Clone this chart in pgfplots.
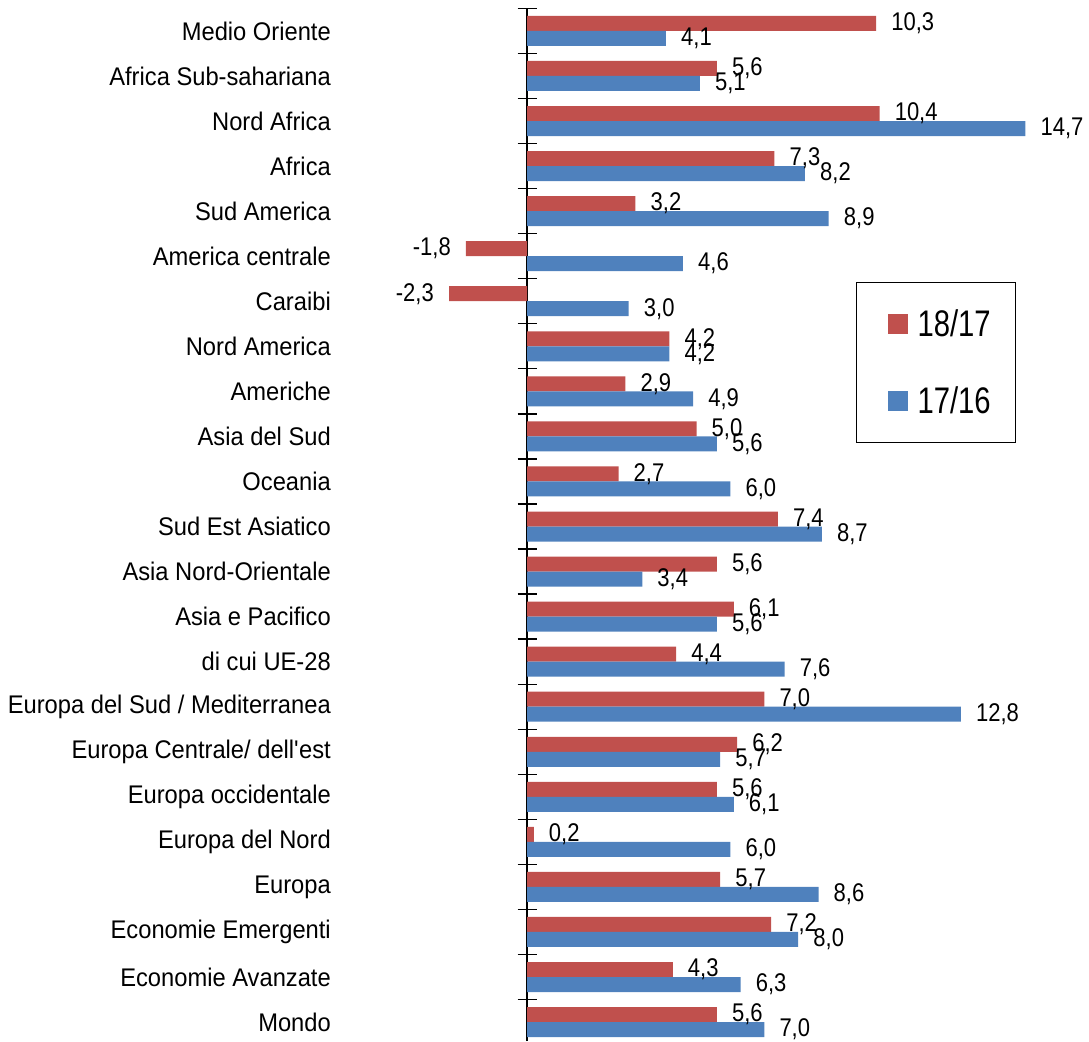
\documentclass[border=0pt]{standalone}
\usepackage{pgfplots}
\pgfplotsset{compat=1.18}
\usepackage{fontspec}
\setmainfont{Liberation Sans}
\newfontfamily\catfont[FakeStretch=0.93]{Liberation Sans}
\newfontfamily\numfont[FakeStretch=0.86]{Liberation Sans}
\newfontfamily\legfont[FakeStretch=0.79]{Liberation Sans}
\definecolor{cred}{HTML}{C0504D}
\definecolor{cblue}{HTML}{4F81BD}
\pgfplotstableread{
y  a     b
22 10.3  4.1
21 5.6   5.1
20 10.4  14.7
19 7.3   8.2
18 3.2   8.9
17 -1.8  4.6
16 -2.3  3.0
15 4.2   4.2
14 2.9   4.9
13 5.0   5.6
12 2.7   6.0
11 7.4   8.7
10 5.6   3.4
9  6.1   5.6
8  4.4   7.6
7  7.0   12.8
6  6.2   5.7
5  5.6   6.1
4  0.2   6.0
3  5.7   8.6
2  7.2   8.0
1  4.3   6.3
0  5.6   7.0
}\datatable
\begin{document}
\begin{tikzpicture}
\begin{axis}[
  at={(442.25pt,0pt)}, anchor=south west,
  scale only axis, width=593.25pt, height=1032.6pt,
  xmin=-2.5, xmax=15, ymin=-0.42, ymax=22.5,
  axis x line=none, axis y line=middle,
  y axis line style={-, line width=1.3pt},
  xbar, bar width=15pt,
  clip=false,
  ytick={0,...,22},
  yticklabels={Mondo,Economie Avanzate,Economie Emergenti,Europa,Europa del Nord,Europa occidentale,Europa Centrale/ dell\textquotesingle est,Europa del Sud / Mediterranea,di cui UE-28,Asia e Pacifico,Asia Nord-Orientale,Sud Est Asiatico,Oceania,Asia del Sud,Americhe,Nord America,Caraibi,America centrale,Sud America,Africa,Nord Africa,Africa Sub-sahariana,Medio Oriente},
  major tick length=0pt,
  minor ytick={0.5,1.5,...,22.5},
  minor tick length=19pt, ytick align=center,
  every tick/.style={black, line width=1.3pt},
  yticklabel style={font=\catfont\fontsize{25.5}{30}\selectfont, anchor=east, inner sep=0pt, xshift=-196pt},
  /pgf/number format/use comma,
  /pgf/number format/fixed,
  /pgf/number format/fixed zerofill,
  /pgf/number format/precision=1,
  /pgf/number format/assume math mode=true,
  nodes near coords,
  nodes near coords style={font=\numfont\fontsize{25.6}{30}\selectfont, inner xsep=15pt, inner ysep=0pt, black},
  legend style={at={(0.6974,0.735)}, anchor=north west, draw=black, line width=1.2pt,
    font=\legfont\fontsize{37}{42}\selectfont, inner xsep=25pt, inner ysep=27pt, row sep=49pt,
    column sep=10pt, nodes={inner sep=0pt}},
  legend cell align=left,
]
\addplot[fill=cred, draw=none, bar shift=7.5pt,
  legend image code/.code={\path (-6pt,0pt); \fill[cred] (0pt,-10pt) rectangle (20pt,10pt);}]
  table[x=a, y=y] {\datatable};
\addplot[fill=cblue, draw=none, bar shift=-7.5pt,
  legend image code/.code={\path (-6pt,0pt); \fill[cblue] (0pt,-10pt) rectangle (20pt,10pt);}]
  table[x=b, y=y] {\datatable};
\legend{18/17,17/16}
\end{axis}
\pgfresetboundingbox
\path[use as bounding box] (0pt,0pt) rectangle (1089pt,1041pt);
\end{tikzpicture}
\end{document}
